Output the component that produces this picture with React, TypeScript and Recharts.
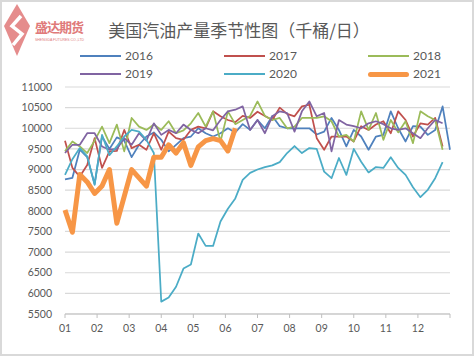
import { CartesianGrid, Line, LineChart, XAxis, YAxis } from "recharts";

const months = ["01", "02", "03", "04", "05", "06", "07", "08", "09", "10", "11", "12"];
const yTicks = [5500, 6000, 6500, 7000, 7500, 8000, 8500, 9000, 9500, 10000, 10500, 11000];

const y2016 = [
  8760, 8800, 9480, 9300, 8650, 9800, 9500, 9780, 9700, 9300, 9600, 9800, 9900, 9720, 9440, 9600,
  9760, 9800, 10000, 9880, 9800, 9880, 10000, 9900, 10100, 9960, 10200, 10000, 10300, 10050, 10000,
  10000, 10000, 10000, 9850, 9920, 10250, 9960, 9560, 9960, 9800, 9480, 9800, 9840, 10410, 10000,
  9680, 10050, 10040, 9840, 9960, 10530, 9480,
];
const y2017 = [
  9700, 9040, 8830, 9110, 9760, 9040, 9440, 9450, 9960, 9520, 9600, 9480, 9880, 9480, 9920, 9760,
  9720, 9960, 10040, 10000, 10410, 10290, 10200, 10150, 10300, 10250, 10400, 10300, 10200, 10500,
  10350, 10290, 10530, 10570, 9760, 9480, 9800, 9800, 9800, 9680, 10050, 9960, 10090, 10170, 9880,
  10410, 10200, 9800, 10120, 10090, 10250, 9560,
];
const y2018 = [
  9440, 9680, 9560, 9400, 9700, 10040, 9640, 10090, 9440, 10250, 10040, 9960, 10090, 9960, 10170,
  9880, 9950, 10120, 10370, 10040, 10410, 9680, 10410, 10100, 10200, 10300, 10650, 10300, 10200,
  10250, 10000, 10040, 10250, 10250, 10250, 10290, 10170, 9800, 9840, 9680, 10410, 9960, 10370, 9720,
  10200, 9900, 10170, 9640, 10410, 10290, 10200, 9480,
];
const y2019 = [
  9400, 9600, 9600, 9880, 9880, 9560, 9480, 9500, 9760, 9600, 9880, 9700, 10120, 9840, 9960, 9880,
  10090, 9960, 9880, 10000, 9950, 10200, 10410, 10450, 10530, 9960, 10200, 9880, 10290, 10410, 10370,
  9920, 10410, 10650, 10290, 10370, 9440, 10200, 10090, 10050, 10000, 10120, 10170, 10100, 10000,
  9960, 10000, 9880, 9760, 10000, 10200, 10120,
];
const y2020 = [
  8870, 9250, 9520, 9320, 8630, 9840, 9350, 9560, 9800, 9960, 9920, 9720, 9400, 5800, 5900, 6160,
  6600, 6700, 7450, 7150, 7150, 7740, 8050, 8300, 8750, 8920, 9000, 9060, 9100, 9180, 9400, 9570,
  9400, 9520, 9500, 8950, 8790, 9280, 8870, 9500, 9190, 8930, 9060, 9040, 9300, 9040, 8870, 8570,
  8330, 8510, 8790, 9180,
];
const y2021 = [
  8020, 7480, 8880, 8700, 8420, 8600, 9000, 7700, 8350, 9000, 8800, 8600, 9300, 9300, 9600, 9400,
  9650, 9100, 9550, 9700, 9750, 9700, 9450, 10000,
];

const series = [
  { key: "2016", values: y2016, color: "#4f81bd", width: 1.75 },
  { key: "2017", values: y2017, color: "#c0504d", width: 1.75 },
  { key: "2018", values: y2018, color: "#9bbb59", width: 1.75 },
  { key: "2019", values: y2019, color: "#8064a2", width: 1.75 },
  { key: "2020", values: y2020, color: "#4bacc6", width: 1.75 },
  { key: "2021", values: y2021, color: "#f79646", width: 5 },
];

const WEEKS = 52;
const monthTicks = Array.from({ length: 13 }, (_, i) => (i * WEEKS) / 12);

const data = Array.from({ length: WEEKS + 1 }, (_, w) => {
  const row: Record<string, number | undefined> = { w };
  series.forEach((s) => {
    row[s.key] = s.values[w];
  });
  return row;
});

const grey = "#595959";
const axisFont = { fontFamily: "Lato, 'Noto Sans', sans-serif", fontSize: 10.5, fill: grey };

function Logo() {
  return (
    <div style={{ position: "absolute", left: 2, top: 2 }}>
      <svg width={26} height={52}>
        <polygon points="13,0 26,22 13,52 0,22" fill="#e58c8c" />
        <path d="M17,12 L8,22 L18,30 L9,41" stroke="#fff" strokeWidth={3.5} fill="none" />
      </svg>
      <div
        style={{
          position: "absolute",
          left: 31,
          top: 13,
          fontFamily: "'Noto Sans CJK SC', sans-serif",
          fontWeight: 700,
          fontSize: 13,
          color: "#e07a7a",
          whiteSpace: "nowrap",
          letterSpacing: -1,
        }}
      >
        盛达期货
      </div>
      <div
        style={{
          position: "absolute",
          left: 31,
          top: 34,
          fontFamily: "'Liberation Sans', sans-serif",
          fontSize: 3.5,
          color: "#e07a7a",
          whiteSpace: "nowrap",
        }}
      >
        SHENGDA FUTURES CO.,LTD
      </div>
    </div>
  );
}

function Legend() {
  const cols = [78, 222, 366];
  const rows = [54, 72];
  return (
    <>
      {series.map((s, i) => {
        const x = cols[i % 3];
        const y = rows[Math.floor(i / 3)];
        return (
          <div key={s.key}>
            <div
              style={{
                position: "absolute",
                left: x,
                top: y - s.width / 2,
                width: 41,
                height: s.width,
                background: s.color,
                borderRadius: s.width > 2 ? 3 : 0,
              }}
            />
            <div
              style={{
                position: "absolute",
                left: x + 45,
                top: y - 8,
                fontFamily: "Lato, 'Noto Sans', sans-serif",
                fontSize: 12,
                lineHeight: "16px",
                color: grey,
              }}
            >
              {s.key}
            </div>
          </div>
        );
      })}
    </>
  );
}

export default function App() {
  return (
    <div
      style={{
        position: "absolute",
        left: 0,
        top: 0,
        width: 474,
        height: 356,
        background: "#fff",
        boxSizing: "border-box",
        border: "2px solid #d9d9d9",
      }}
    >
      <div style={{ position: "absolute", left: -2, top: -2 }}>
        <LineChart
          width={474}
          height={356}
          data={data}
          margin={{ top: 87, right: 24, bottom: 12, left: 0 }}
        >
          <CartesianGrid stroke="#d9d9d9" vertical={false} strokeWidth={1.2} />
          <XAxis
            type="number"
            dataKey="w"
            domain={[0, WEEKS]}
            ticks={monthTicks}
            interval={0}
            height={30}
            tickFormatter={(v: number) => months[Math.round((v * 12) / WEEKS)] ?? ""}
            stroke="#bfbfbf"
            tickSize={4}
            tickMargin={7}
            tick={axisFont}
          />
          <YAxis
            type="number"
            domain={[5500, 11000]}
            ticks={yTicks}
            interval={0}
            width={65}
            axisLine={false}
            tickLine={false}
            tickMargin={7}
            tick={axisFont}
          />
          {series.map((s) => (
            <Line
              key={s.key}
              type="linear"
              dataKey={s.key}
              stroke={s.color}
              strokeWidth={s.width}
              strokeLinejoin="round"
              dot={false}
              activeDot={false}
              isAnimationActive={false}
            />
          ))}
        </LineChart>
      </div>
      <Logo />
      <div
        style={{
          position: "absolute",
          left: 0,
          width: 474,
          top: 16,
          textAlign: "center",
          paddingLeft: 0,
          fontFamily: "'Noto Sans CJK SC', sans-serif",
          fontSize: 17,
          lineHeight: "24px",
          color: grey,
        }}
      >
        美国汽油产量季节性图（千桶/日）
      </div>
      <Legend />
    </div>
  );
}
